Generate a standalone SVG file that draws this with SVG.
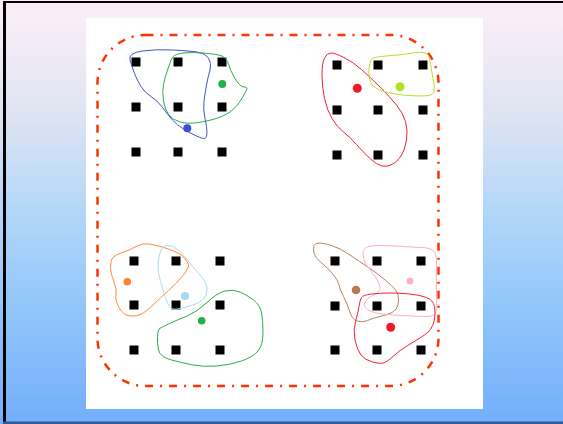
<svg xmlns="http://www.w3.org/2000/svg" width="563" height="424" viewBox="0 0 563 424">
<defs>
<linearGradient id="bg" x1="0" y1="0" x2="0" y2="1">
<stop offset="0" stop-color="#fdeef9"/>
<stop offset="0.25" stop-color="#e2e5f3"/>
<stop offset="0.5" stop-color="#b2d6f7"/>
<stop offset="0.75" stop-color="#8ec4fa"/>
<stop offset="1" stop-color="#72aefa"/>
</linearGradient>
<rect id="sq" x="-4.5" y="-4.5" width="9" height="9" fill="#000"/>
</defs>
<style>
.blob{fill:none;stroke-width:1;stroke-linejoin:round}
.frame{fill:none;stroke:#ff3300;stroke-width:2.5;stroke-dasharray:8 7 2 7}
</style>
<rect x="0" y="0" width="563" height="424" fill="url(#bg)"/>
<rect x="3" y="1" width="560" height="2" fill="#000"/>
<rect x="3" y="1" width="3" height="423" fill="#000"/>
<rect x="3" y="421.5" width="560" height="2.5" fill="#2f5a9a"/>
<rect x="86" y="18" width="397" height="391" fill="#fff"/>
<g id="boundary"><rect class="frame" x="97.5" y="35" width="341" height="351" rx="48" ry="48"/></g>
<g id="grid-tl">
<use href="#sq" x="136" y="62"/><use href="#sq" x="178" y="62"/><use href="#sq" x="222" y="62"/>
<use href="#sq" x="136" y="107"/><use href="#sq" x="178" y="107"/><use href="#sq" x="222" y="107"/>
<use href="#sq" x="136" y="152"/><use href="#sq" x="178" y="152"/><use href="#sq" x="222" y="152"/>
</g>
<g id="grid-tr">
<use href="#sq" x="337" y="65"/><use href="#sq" x="378" y="65"/><use href="#sq" x="423" y="65"/>
<use href="#sq" x="337" y="110"/><use href="#sq" x="378" y="110"/><use href="#sq" x="423" y="110"/>
<use href="#sq" x="337" y="155"/><use href="#sq" x="378" y="155"/><use href="#sq" x="423" y="155"/>
</g>
<g id="grid-bl">
<use href="#sq" x="134" y="261"/><use href="#sq" x="176" y="261"/><use href="#sq" x="220" y="261"/>
<use href="#sq" x="134" y="305"/><use href="#sq" x="176" y="305"/><use href="#sq" x="220" y="305"/>
<use href="#sq" x="134" y="350"/><use href="#sq" x="176" y="350"/><use href="#sq" x="220" y="350"/>
</g>
<g id="grid-br">
<use href="#sq" x="335" y="261"/><use href="#sq" x="377" y="261"/><use href="#sq" x="421" y="261"/>
<use href="#sq" x="335" y="306"/><use href="#sq" x="377" y="306"/><use href="#sq" x="421" y="306"/>
<use href="#sq" x="335" y="350"/><use href="#sq" x="377" y="350"/><use href="#sq" x="421" y="350"/>
</g>
<g id="cluster-blue">
<path class="blob" stroke="#4450d0" d="M142.5,51 Q157,49 173.5,50 Q190,51 197.5,52 Q205,53 208.5,58 Q212,63 210,70 Q208,77 206.5,85 Q205,93 204,101.5 Q203,110 205,118.5 Q207,127 207,132.5 Q207,138 205,138.5 Q203,139 196.5,136 Q190,133 183.5,129 Q177,125 172.5,120 Q168,115 162.5,107.5 Q157,100 151,96.5 Q145,93 141,86.5 Q137,80 134.5,73.5 Q132,67 130,60 Q128,53 142.5,51 Z"/>
<circle cx="187.3" cy="128.3" r="4" fill="#3c4ed2"/>
</g>
<g id="cluster-green-tl">
<path class="blob" stroke="#2aae4a" d="M180,53.5 Q187,52 202,53 Q217,54 222,56 Q227,58 228.5,64 Q230,70 235,78.5 Q240,87 244,87 Q248,87 246.5,90 Q245,93 241,100 Q237,107 230,112 Q223,117 213,119.5 Q203,122 195,123 Q187,124 180,122 Q173,120 169,115 Q165,110 163.5,101 Q162,92 163.5,84.5 Q165,77 167.5,70 Q170,63 171.5,59 Q173,55 180,53.5 Z"/>
<circle cx="222.3" cy="84" r="4" fill="#22b04a"/>
</g>
<g id="cluster-red-tr">
<path class="blob" stroke="#ee2233" d="M331,53 Q335,53 344,57.5 Q353,62 361.5,69.5 Q370,77 380,87 Q390,97 396.5,105 Q403,113 405.5,121.5 Q408,130 406.5,140 Q405,150 401,156 Q397,162 392,164.5 Q387,167 382,166 Q377,165 370,158.5 Q363,152 356.5,144.5 Q350,137 343.5,132 Q337,127 332,118.5 Q327,110 324.5,98.5 Q322,87 322,75 Q322,63 324.5,58 Q327,53 331,53 Z"/>
<circle cx="357.3" cy="88.3" r="4.5" fill="#ee1c2a"/>
</g>
<g id="cluster-lime">
<path class="blob" stroke="#b5e02a" d="M386,56 Q400,55 413.5,53 Q427,51 428.5,55.5 Q430,60 431,66.5 Q432,73 433.5,81.5 Q435,90 433.5,93 Q432,96 421,96 Q410,96 398.5,94.5 Q387,93 379.5,90 Q372,87 370,80 Q368,73 369,68 Q370,63 371,60 Q372,57 386,56 Z"/>
<circle cx="400" cy="86.7" r="4.5" fill="#b5e020"/>
</g>
<g id="cluster-orange">
<path class="blob" stroke="#ff8a3a" d="M121,253 Q130,250 136,246.5 Q142,243 149.5,244 Q157,245 168.5,249 Q180,253 184,257.5 Q188,262 188.5,265 Q189,268 183,275.5 Q177,283 168.5,290.5 Q160,298 154,304 Q148,310 142.5,313.5 Q137,317 130,316 Q123,315 119,307.5 Q115,300 116,295 Q117,290 114.5,283.5 Q112,277 111,272 Q110,267 111,261.5 Q112,256 121,253 Z"/>
<circle cx="127.3" cy="281.7" r="3.8" fill="#ff8030"/>
</g>
<g id="cluster-lightblue">
<path class="blob" stroke="#a6dcea" d="M167,245.5 Q172,245 177.5,249.5 Q183,254 188,260.5 Q193,267 200,275 Q207,283 207,289 Q207,295 203.5,299 Q200,303 191.5,305.5 Q183,308 177.5,309 Q172,310 169.5,306.5 Q167,303 165,296.5 Q163,290 160.5,281.5 Q158,273 158,266.5 Q158,260 160,253 Q162,246 167,245.5 Z"/>
<circle cx="185" cy="296" r="4" fill="#a4dcf0"/>
</g>
<g id="cluster-green-bl">
<path class="blob" stroke="#2aae4a" d="M168.5,324 Q177,320 187,316 Q197,312 207,302.5 Q217,293 225,291 Q233,289 240,292 Q247,295 253.5,300 Q260,305 261.5,312.5 Q263,320 263,332.5 Q263,345 258,351 Q253,357 241.5,361 Q230,365 216.5,366 Q203,367 193,365 Q183,363 171.5,360 Q160,357 158.5,350 Q157,343 157.5,336.5 Q158,330 159,329 Q160,328 168.5,324 Z"/>
<circle cx="201.7" cy="320.7" r="3.8" fill="#22b04a"/>
</g>
<g id="cluster-brown">
<path class="blob" stroke="#b88060" d="M319,243 Q323,243 331.5,245.5 Q340,248 350,255 Q360,262 368.5,267.5 Q377,273 387,281.5 Q397,290 398,295 Q399,300 398,305 Q397,310 392,312.5 Q387,315 380,316.5 Q373,318 367.5,320.5 Q362,323 357,321 Q352,319 349.5,311 Q347,303 343.5,296.5 Q340,290 339,285 Q338,280 332.5,273.5 Q327,267 321,262.5 Q315,258 314,253 Q313,248 314,245.5 Q315,243 319,243 Z"/>
<circle cx="356" cy="290" r="4.3" fill="#b87850"/>
</g>
<g id="cluster-pink">
<path class="blob" stroke="#ffaccc" d="M371.5,246 Q380,245 395,246 Q410,247 421.5,247.5 Q433,248 435,252.5 Q437,257 436.5,268.5 Q436,280 436.5,293.5 Q437,307 436,312 Q435,317 422.5,316.5 Q410,316 401.5,315.5 Q393,315 383,314 Q373,313 368,310 Q363,307 365,302.5 Q367,298 373.5,295 Q380,292 380,287.5 Q380,283 375,276.5 Q370,270 366.5,265 Q363,260 363,253.5 Q363,247 371.5,246 Z"/>
<circle cx="410" cy="281" r="3.5" fill="#ffb0d0"/>
</g>
<g id="cluster-red-br">
<path class="blob" stroke="#ee2233" d="M371.5,294 Q380,293 390,293 Q400,293 410,294 Q420,295 426.5,297.5 Q433,300 434.5,306.5 Q436,313 434,321.5 Q432,330 424.5,335 Q417,340 408.5,345 Q400,350 393.5,356 Q387,362 383.5,363 Q380,364 372.5,362 Q365,360 361,355 Q357,350 355,340 Q353,330 355.5,321.5 Q358,313 359,306.5 Q360,300 361.5,297.5 Q363,295 371.5,294 Z"/>
<circle cx="390.7" cy="327.3" r="4.5" fill="#ee1c2a"/>
</g>
<g id="connectors"/>
</svg>
